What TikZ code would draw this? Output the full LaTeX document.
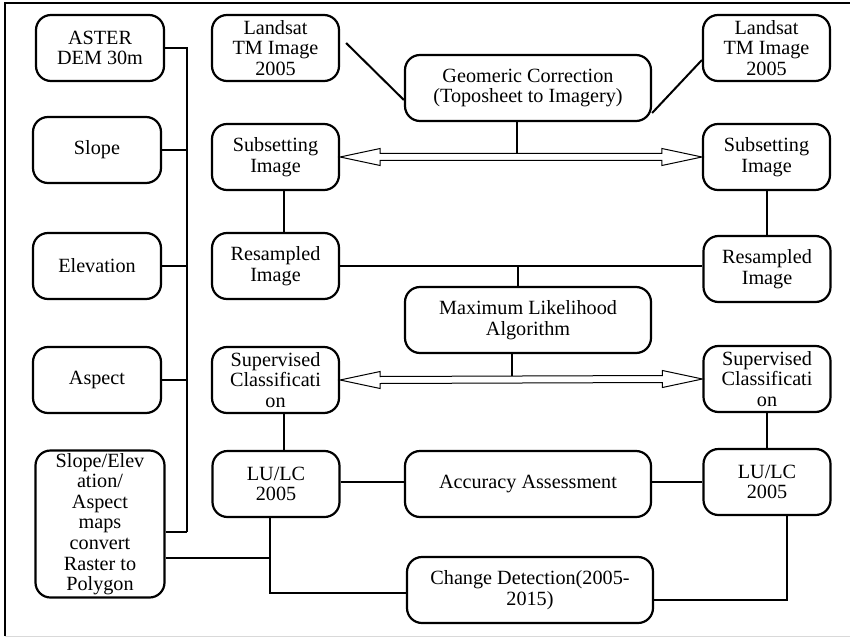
\documentclass[tikz,border=0pt]{standalone}
\usepackage{fontspec}
\setmainfont{Liberation Serif}
\usetikzlibrary{calc}
\tikzset{
  procbox/.style={draw, line width=2.2pt, rounded corners=15pt, align=center, inner sep=0pt,
    font=\fontsize{20.2}{20.6}\selectfont},
  sidebox/.style={procbox, minimum width=128pt, minimum height=66pt},
  imgbox/.style={procbox, minimum width=127pt, minimum height=66pt},
  midbox/.style={procbox, minimum width=246pt, minimum height=66pt},
  link/.style={line width=2pt},
  hollowarr/.style={line width=1pt, fill=white},
}
% hollow two-headed arrow between two anchors
\newcommand{\hollowlink}[2]{%
  \draw[hollowarr] (#1) -- ($(#1)+(40,-8.5)$) -- ($(#1)+(40,-3.5)$) -- ($(#2)+(-40,-3.5)$)
    -- ($(#2)+(-40,-8.5)$) -- (#2) -- ($(#2)+(-40,8.5)$) -- ($(#2)+(-40,3.5)$)
    -- ($(#1)+(40,3.5)$) -- ($(#1)+(40,8.5)$) -- cycle;}
\begin{document}
\begin{tikzpicture}[x=1pt,y=-1pt]
\useasboundingbox (0,0) rectangle (850,639);
\draw[line width=2pt] (5,636) -- (5,3) -- (850,3); % frame
\draw[black!15, line width=1pt] (5,636) -- (850,636);

% left column
\coordinate (bus) at (187,0);
\node[sidebox] (aster) at (100,48) {ASTER\\DEM 30m};
\draw[link] (aster.east) -| (bus |- 0,532);
\foreach \nm/\txt/\y in {slope/Slope/150, elev/Elevation/266, aspect/Aspect/380}
{
\node[sidebox] (\nm) at (97,\y) {\txt};
\draw[link] (\nm.east) -- (\nm.east -| bus);
}
\node[procbox, minimum width=129pt, minimum height=147pt] (sea) at (100,524)
  {Slope/Elev\\ation/\\Aspect\\maps\\convert\\Raster to\\Polygon};
\draw[link] (sea.east |- 0,532) -- (bus |- 0,532);

% image columns
\node[imgbox] (lsL) at (275.5,48) {Landsat\\TM Image\\2005};
\node[imgbox] (subL) at (275.5,157) {Subsetting\\Image};
\node[imgbox] (resL) at (275.5,266) {Resampled\\Image};
\node[imgbox] (supL) at (275.5,380) {Supervised\\Classificati\\on};
\node[imgbox] (lucL) at (276,484) {LU/LC\\2005};
\node[imgbox] (lsR) at (766.5,48) {Landsat\\TM Image\\2005};
\node[imgbox] (subR) at (766.5,157) {Subsetting\\Image};
\node[imgbox] (resR) at (767,269) {Resampled\\Image};
\node[imgbox] (supR) at (767,379) {Supervised\\Classificati\\on};
\node[imgbox] (lucR) at (767,482) {LU/LC\\2005};

% middle column
\node[midbox] (geo) at (528,88) {Geomeric Correction\\(Toposheet to Imagery)};
\node[midbox] (ml) at (528,320) {Maximum Likelihood\\Algorithm};
\node[midbox] (acc) at (528,484) {Accuracy Assessment};
\node[midbox] (chg) at (530,590) {Change Detection(2005-\\2015)};

% connectors
\draw[link] ($(lsL.east)+(6,-5)$) -- ($(geo.west)+(0,12)$);
\draw[link] ($(geo.east)+(0,25)$) -- ($(lsR.west)+(0,12)$);
\draw[link] ([xshift=-11pt]geo.south) -- ($([xshift=-11pt]geo.south |- subL.east)+(0,-3.5)$);
\hollowlink{subL.east}{subR.west}
\draw[link] ([xshift=8.5pt]subL.south) -- ([xshift=8.5pt]resL.north);
\draw[link] (subR.south) -- (subR.south |- resR.north);
\draw[link] (resL.east) -- (resL.east -| resR.west);
\draw[link] ([xshift=-10pt]ml.north |- resL.east) -- ([xshift=-10pt]ml.north);
\draw[link] ([xshift=-16pt]ml.south) -- ($([xshift=-16pt]ml.south |- supL.east)+(0,-3.5)$);
\hollowlink{supL.east}{supR.west}
\draw[link] ([xshift=8.5pt]supL.south) -- ([xshift=8.5pt]supL.south |- lucL.north);
\draw[link] (supR.south) -- (lucR.north);
\draw[link] (lucL.east |- 0,482) -- (acc.west |- 0,482);
\draw[link] (acc.east |- 0,482) -- (lucR.west |- 0,482);
\draw[link] ([xshift=-6pt]lucL.south) |- ($(chg.west)+(0,3)$);
\draw[link] (sea.east |- 0,558) -- ([xshift=-6pt]lucL.south |- 0,558);
\draw[link] ([xshift=20pt]lucR.south) |- ($(chg.east)+(0,10)$);
\end{tikzpicture}
\end{document}
